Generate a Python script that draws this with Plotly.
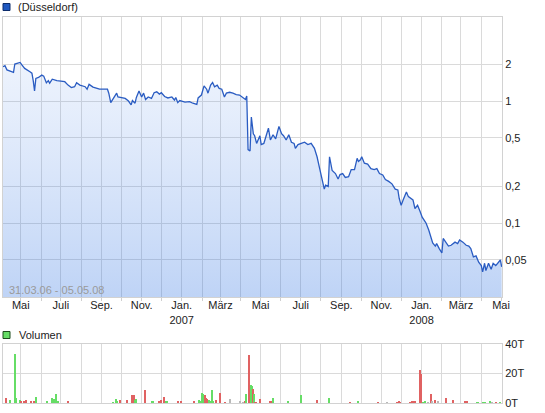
import plotly.graph_objects as go

# Kursverlauf (Düsseldorf)
price_dates = [
    "2006-04-04", "2006-04-07", "2006-04-10", "2006-04-15", "2006-04-20", "2006-04-22", "2006-04-27",
    "2006-04-30", "2006-05-03", "2006-05-07", "2006-05-15", "2006-05-18", "2006-05-20", "2006-05-22",
    "2006-05-24", "2006-05-28", "2006-06-02", "2006-06-05", "2006-06-09", "2006-06-12", "2006-06-14",
    "2006-06-18", "2006-06-25", "2006-07-02", "2006-07-07", "2006-07-12", "2006-07-17", "2006-07-22",
    "2006-07-25", "2006-07-30", "2006-08-07", "2006-08-10", "2006-08-13", "2006-08-19", "2006-08-24",
    "2006-08-29", "2006-09-06", "2006-09-10", "2006-09-12", "2006-09-15", "2006-09-19", "2006-09-24",
    "2006-09-26", "2006-10-02", "2006-10-07", "2006-10-12", "2006-10-16", "2006-10-18", "2006-10-22",
    "2006-10-24", "2006-10-28", "2006-11-01", "2006-11-04", "2006-11-07", "2006-11-11", "2006-11-16",
    "2006-11-20", "2006-11-24", "2006-11-28", "2006-12-01", "2006-12-06", "2006-12-11", "2006-12-17",
    "2006-12-21", "2006-12-23", "2006-12-26", "2006-12-29", "2007-01-06", "2007-01-13", "2007-01-18",
    "2007-01-24", "2007-01-26", "2007-01-31", "2007-02-04", "2007-02-08", "2007-02-10", "2007-02-14",
    "2007-02-17", "2007-02-20", "2007-02-24", "2007-02-27", "2007-03-03", "2007-03-07", "2007-03-10",
    "2007-03-15", "2007-03-20", "2007-03-25", "2007-03-30", "2007-04-04", "2007-04-08", "2007-04-10",
    "2007-04-12", "2007-04-15", "2007-04-17", "2007-04-20", "2007-04-22", "2007-04-25", "2007-04-27",
    "2007-04-30", "2007-05-02", "2007-05-06", "2007-05-10", "2007-05-13", "2007-05-16", "2007-05-20",
    "2007-05-24", "2007-05-29", "2007-06-02", "2007-06-05", "2007-06-09", "2007-06-13", "2007-06-17",
    "2007-06-21", "2007-06-23", "2007-06-27", "2007-07-02", "2007-07-07", "2007-07-12", "2007-07-17",
    "2007-07-22", "2007-07-26", "2007-07-30", "2007-08-02", "2007-08-06", "2007-08-08", "2007-08-12",
    "2007-08-14", "2007-08-18", "2007-08-23", "2007-08-27", "2007-08-30", "2007-09-03", "2007-09-07",
    "2007-09-12", "2007-09-16", "2007-09-21", "2007-09-25", "2007-09-27", "2007-09-30", "2007-10-02",
    "2007-10-06", "2007-10-11", "2007-10-16", "2007-10-21", "2007-10-25", "2007-10-29", "2007-11-03",
    "2007-11-07", "2007-11-12", "2007-11-17", "2007-11-22", "2007-11-26", "2007-11-28", "2007-12-01",
    "2007-12-04", "2007-12-09", "2007-12-12", "2007-12-16", "2007-12-19", "2007-12-22", "2007-12-26",
    "2007-12-30", "2008-01-02", "2008-01-05", "2008-01-08", "2008-01-12", "2008-01-16", "2008-01-18",
    "2008-01-22", "2008-01-24", "2008-01-28", "2008-02-01", "2008-02-03", "2008-02-07", "2008-02-11",
    "2008-02-15", "2008-02-17", "2008-02-21", "2008-02-25", "2008-02-28", "2008-03-04", "2008-03-09",
    "2008-03-13", "2008-03-16", "2008-03-20", "2008-03-24", "2008-03-28", "2008-04-01", "2008-04-03",
    "2008-04-06", "2008-04-08", "2008-04-12", "2008-04-16", "2008-04-19", "2008-04-23", "2008-04-27",
    "2008-04-30", "2008-05-02",
]
price_values = [
    1.91, 1.95, 1.80, 1.76, 1.72, 2.01, 2.04,
    2.07, 1.97, 1.85, 1.74, 1.69, 1.47, 1.21,
    1.53, 1.56, 1.63, 1.60, 1.41, 1.47, 1.40,
    1.51, 1.47, 1.45, 1.44, 1.35, 1.29, 1.31,
    1.41, 1.35, 1.31, 1.25, 1.37, 1.30, 1.27,
    1.25, 1.25, 1.25, 1.16, 0.97, 1.05, 1.16,
    1.08, 1.07, 1.05, 1.00, 0.93, 1.01, 0.96,
    1.07, 1.21, 1.08, 1.16, 1.03, 1.08, 1.05,
    1.17, 1.19, 1.14, 1.17, 1.09, 1.06, 1.08,
    1.02, 1.07, 0.97, 1.01, 0.98, 0.99, 0.96,
    0.94, 1.06, 1.12, 1.33, 1.25, 1.16, 1.35,
    1.42, 1.31, 1.35, 1.27, 1.25, 1.08, 1.16,
    1.18, 1.16, 1.13, 1.12, 1.07, 1.03, 1.10,
    0.40, 0.39, 0.74, 0.54, 0.52, 0.45, 0.48,
    0.52, 0.44, 0.45, 0.53, 0.60, 0.48, 0.53,
    0.49, 0.62, 0.54, 0.52, 0.48, 0.53, 0.46,
    0.45, 0.41, 0.44, 0.45, 0.46, 0.44, 0.45,
    0.41, 0.35, 0.28, 0.24, 0.19, 0.205, 0.20,
    0.35, 0.27, 0.255, 0.23, 0.25, 0.255, 0.237,
    0.24, 0.275, 0.275, 0.34, 0.32, 0.33, 0.35,
    0.31, 0.305, 0.28, 0.275, 0.28, 0.255, 0.248,
    0.228, 0.22, 0.21, 0.19, 0.187, 0.16, 0.14,
    0.155, 0.18, 0.165, 0.16, 0.155, 0.132, 0.14,
    0.124, 0.112, 0.106, 0.10, 0.088, 0.073, 0.069,
    0.065, 0.068, 0.062, 0.057, 0.075, 0.070, 0.065,
    0.066, 0.067, 0.070, 0.068, 0.073, 0.070, 0.066,
    0.065, 0.062, 0.053, 0.054, 0.048, 0.045, 0.040,
    0.047, 0.041, 0.047, 0.042, 0.047, 0.045, 0.048,
    0.050, 0.044,
]

# Umsatz in Tausend Stück; "d" = Minus (rot), "u" = Plus (grün), "n" = unverändert (grau)
vol_dates = [
    "2006-04-08", "2006-04-09", "2006-04-15", "2006-04-22", "2006-04-24", "2006-04-30", "2006-05-01",
    "2006-05-06", "2006-05-09", "2006-05-16", "2006-05-21", "2006-05-25", "2006-06-10", "2006-06-17",
    "2006-06-18", "2006-06-21", "2006-06-24", "2006-06-27", "2006-07-12", "2006-09-19", "2006-09-23",
    "2006-09-25", "2006-09-29", "2006-10-10", "2006-10-18", "2006-10-20", "2006-10-22", "2006-10-24",
    "2006-11-06", "2006-11-17", "2006-11-19", "2006-11-28", "2006-12-01", "2006-12-05", "2006-12-08",
    "2006-12-10", "2006-12-27", "2006-12-31", "2007-01-20", "2007-01-28", "2007-01-30", "2007-02-01",
    "2007-02-03", "2007-02-04", "2007-02-06", "2007-02-07", "2007-02-09", "2007-02-10", "2007-02-12",
    "2007-02-13", "2007-02-15", "2007-02-16", "2007-02-18", "2007-02-22", "2007-02-28", "2007-03-08",
    "2007-03-16", "2007-03-31", "2007-04-04", "2007-04-07", "2007-04-09", "2007-04-13", "2007-04-15",
    "2007-04-16", "2007-04-18", "2007-04-20", "2007-04-21", "2007-04-23", "2007-04-24", "2007-04-30",
    "2007-05-15", "2007-05-17", "2007-05-20", "2007-06-12", "2007-07-02", "2007-07-26", "2007-08-13",
    "2007-09-14", "2007-09-26", "2007-10-27", "2007-11-09", "2007-11-24", "2007-11-28", "2007-11-30",
    "2007-12-14", "2007-12-17", "2007-12-20", "2007-12-22", "2007-12-29", "2007-12-31", "2008-01-04",
    "2008-01-07", "2008-01-11", "2008-01-15", "2008-01-17", "2008-01-21", "2008-01-26", "2008-02-07",
    "2008-02-18", "2008-03-07", "2008-03-11", "2008-03-25", "2008-03-27", "2008-04-03", "2008-04-06",
    "2008-04-14", "2008-04-17", "2008-04-23", "2008-04-29",
]
vol_values = [
    2.3, 3.5, 2.1, 33.0, 3.5, 2.1, 0.9,
    1.6, 2.1, 0.9, 1.6, 4.1, 1.6, 2.8,
    3.5, 2.8, 6.4, 1.6, 1.6, 0.5, 3.0,
    0.9, 2.1, 2.3, 5.1, 5.1, 2.3, 3.0,
    8.5, 0.9, 1.6, 0.9, 2.3, 4.4, 0.9,
    0.9, 0.9, 0.9, 0.9, 2.3, 0.9, 7.1,
    6.2, 5.5, 5.1, 3.7, 3.0, 1.6, 2.1,
    1.2, 0.9, 8.5, 0.9, 2.3, 7.1, 0.5,
    3.0, 0.9, 0.5, 0.9, 5.8, 32.7, 3.0,
    12.0, 11.5, 9.2, 5.8, 0.5, 0.5, 3.0,
    1.6, 1.2, 3.7, 1.2, 5.1, 2.3, 3.7,
    0.5, 1.6, 0.5, 0.5, 0.5, 1.2, 0.5,
    0.5, 0.9, 1.6, 0.9, 22.5, 19.8, 0.5,
    1.6, 0.5, 6.4, 0.9, 2.3, 1.6, 3.7,
    2.3, 0.9, 1.6, 0.5, 0.5, 0.5, 0.5,
    1.2, 0.5, 0.5, 0.5,
]
vol_moves = [
    "d", "d", "u", "u", "u", "u", "d",
    "d", "d", "d", "d", "u", "u", "u",
    "u", "u", "u", "u", "d", "u", "u",
    "u", "d", "d", "d", "d", "u", "u",
    "d", "u", "u", "d", "d", "d", "u",
    "u", "d", "d", "d", "u", "u", "u",
    "u", "u", "d", "d", "d", "d", "u",
    "u", "u", "u", "u", "d", "d", "d",
    "n", "n", "n", "d", "u", "d", "d",
    "u", "u", "d", "u", "d", "d", "d",
    "d", "d", "u", "u", "u", "d", "u",
    "d", "u", "d", "n", "d", "d", "d",
    "d", "d", "d", "d", "d", "d", "u",
    "u", "n", "d", "n", "d", "n", "d",
    "d", "d", "d", "u", "u", "u", "u",
    "u", "n", "d", "u",
]

month_ticks = [
    "2006-05-01", "2006-06-01", "2006-07-01", "2006-08-01", "2006-09-01", "2006-10-01", "2006-11-01",
    "2006-12-01", "2007-01-01", "2007-02-01", "2007-03-01", "2007-04-01", "2007-05-01", "2007-06-01",
    "2007-07-01", "2007-08-01", "2007-09-01", "2007-10-01", "2007-11-01", "2007-12-01", "2008-01-01",
    "2008-02-01", "2008-03-01", "2008-04-01", "2008-05-01",
]
month_labels = [
    "Mai", "", "Juli", "", "Sep.", "", "Nov.", "", "Jan.<br>2007", "", "März", "", "Mai", "",
    "Juli", "", "Sep.", "", "Nov.", "", "Jan.<br>2008", "", "März", "", "Mai",
]
price_ticks = [0.05, 0.1, 0.2, 0.5, 1, 2]
price_labels = ["0,05", "0,1", "0,2", "0,5", "1", "2"]
vol_ticks = [0, 20, 40]
vol_labels = ["0T", "20T", "40T"]

W, H = 545, 413
ML, MR, MT, MB = 3, 43, 17, 10
GRID = "#dadada"
FONT = "Liberation Sans, Arial, sans-serif"


def px_x(x):
    return (x - ML) / (W - ML - MR)


def px_y(y):
    return (H - MB - y) / (H - MT - MB)


move_colors = {"d": "#e06262", "u": "#66dd66", "n": "#b9b9b9"}

fig = go.Figure()

# Kurslinie mit halbtransparenter Verlaufsfläche (Gitter scheint durch)
fig.add_trace(
    go.Scatter(
        x=price_dates,
        y=price_values,
        mode="lines",
        line=dict(color="#2a5cc2", width=1.3),
        fill="tozeroy",
        fillgradient=dict(
            type="vertical",
            start=0.0249,
            stop=4.0,
            colorscale=[[0, "rgba(40,110,225,0.30)"], [1, "rgba(100,150,235,0.08)"]],
        ),
        xaxis="x",
        yaxis="y",
        showlegend=False,
        hoverinfo="skip",
    )
)

fig.add_trace(
    go.Bar(
        x=vol_dates,
        y=vol_values,
        marker=dict(color=[move_colors[m] for m in vol_moves], line=dict(width=0)),
        width=1.6 * 86400000,
        xaxis="x2",
        yaxis="y2",
        showlegend=False,
        hoverinfo="skip",
    )
)

axis_common = dict(
    showgrid=True,
    gridcolor=GRID,
    gridwidth=1,
    showline=True,
    linecolor="#d2d2d2",
    linewidth=1,
    mirror=True,
    zeroline=False,
)

fig.update_layout(
    width=W,
    height=H,
    margin=dict(l=ML, r=MR, t=MT, b=MB),
    paper_bgcolor="white",
    plot_bgcolor="white",
    font=dict(family=FONT, size=11, color="#222222"),
    bargap=0,
    xaxis=dict(
        axis_common,
        domain=[0, 1],
        anchor="y",
        type="date",
        range=["2006-04-04", "2008-05-02 12:00"],
        tickmode="array",
        tickvals=month_ticks,
        ticktext=month_labels,
        ticks="outside",
        ticklen=3,
        tickcolor="#cfcfcf",
        ticklabelstandoff=-5,
        tickfont=dict(size=11, color="#222222"),
    ),
    yaxis=dict(
        axis_common,
        domain=[px_y(297), 1],
        anchor="x",
        type="log",
        side="right",
        range=[-1.604, 0.688],
        tickmode="array",
        tickvals=price_ticks,
        ticktext=price_labels,
        ticks="",
        tickfont=dict(size=11, color="#222222"),
    ),
    xaxis2=dict(
        axis_common,
        domain=[0, 1],
        anchor="y2",
        type="date",
        matches="x",
        tickmode="array",
        tickvals=month_ticks,
        showticklabels=False,
        ticks="",
    ),
    yaxis2=dict(
        axis_common,
        domain=[0, px_y(344)],
        anchor="x2",
        side="right",
        range=[0, 40],
        tickmode="array",
        tickvals=vol_ticks,
        ticktext=vol_labels,
        ticks="",
        tickfont=dict(size=11, color="#222222"),
    ),
)

# Legenden-Kästchen und Beschriftungen
fig.add_shape(
    type="rect", xref="paper", yref="paper",
    x0=px_x(3), x1=px_x(10), y0=px_y(10.5), y1=px_y(3.5),
    fillcolor="#1f58c0", line=dict(color="#0c2c6c", width=1),
)
fig.add_annotation(
    text="(Düsseldorf)", xref="paper", yref="paper",
    x=px_x(16), y=px_y(7), xanchor="left", yanchor="middle",
    showarrow=False, font=dict(size=11, color="#222222"),
)
fig.add_shape(
    type="rect", xref="paper", yref="paper",
    x0=px_x(3), x1=px_x(10), y0=px_y(338.5), y1=px_y(331.5),
    fillcolor="#66dd66", line=dict(color="#1d4d1d", width=1),
)
fig.add_annotation(
    text="Volumen", xref="paper", yref="paper",
    x=px_x(17), y=px_y(335), xanchor="left", yanchor="middle",
    showarrow=False, font=dict(size=11, color="#222222"),
)
fig.add_annotation(
    text="31.03.06 - 05.05.08", xref="paper", yref="paper",
    x=px_x(7), y=px_y(290), xanchor="left", yanchor="middle",
    showarrow=False, font=dict(size=11, color="#9a9a9a"),
)

# Seitenrand des Browsers entfernen, damit die Grafik bündig sitzt
fig.write_html(
    "out.html",
    config={"displayModeBar": False},
    post_script="document.body.style.margin='0';",
)
